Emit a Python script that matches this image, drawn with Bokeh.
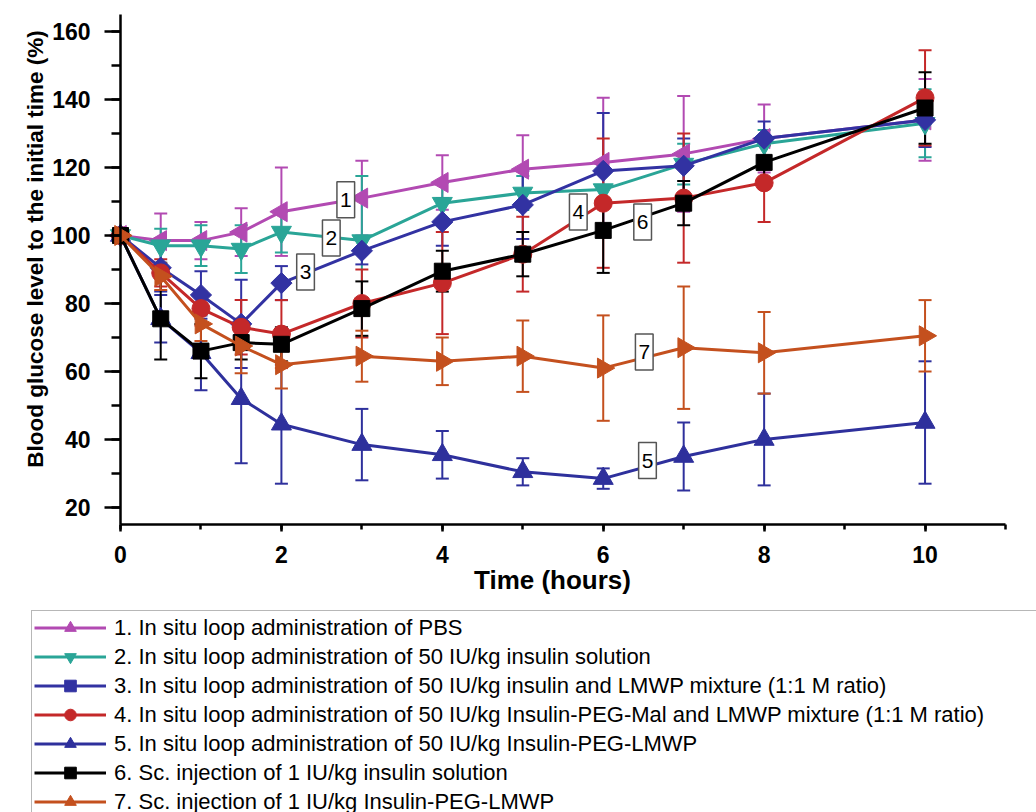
import numpy as np
from bokeh.plotting import figure
from bokeh.models import (ColumnDataSource, Whisker, TeeHead, Legend, LegendItem,
                          Label, SingleIntervalTicker, Range1d)
from bokeh.embed import file_html
from bokeh.resources import INLINE

# ---------------- data ----------------
time_h = [0, 0.5, 1, 1.5, 2, 3, 4, 5, 6, 7, 8, 10]

pbs_mean = [100, 98.5, 98.5, 101, 107, 111, 115.6, 119.5, 121.5, 124, 128.5, 134]
pbs_err = [0, 8, 5.5, 7, 13, 11, 8, 10, 19, 17, 10, 12]

ins_mean = [100, 97, 97, 96, 101, 98.5, 109.5, 112.5, 113.5, 121, 127, 133]
ins_err = [0, 5, 6, 7, 6, 19, 6, 5, 5, 6, 4, 10]

mix_mean = [100, 90.5, 82.5, 74, 86, 95.5, 104, 109, 119, 120.5, 128.5, 134]
mix_err = [0, 7, 7, 13, 5, 4, 7, 10, 17, 8, 5, 8]

mal_mean = [100, 89, 78.5, 73, 71, 80, 86, 94.5, 109.5, 111, 115.5, 140.5]
mal_err = [0, 4, 5, 8, 10, 10, 15, 11, 19, 19, 11.5, 14]

conj_mean = [100, 75.5, 65.5, 52, 44.5, 38.5, 35.5, 30.5, 28.5, 35, 40, 45]
conj_err = [0, 7, 11, 19, 17.5, 10.5, 7, 4, 3, 10, 13.5, 18]

sc_ins_mean = [100, 75.5, 66, 68.5, 68, 78.5, 89.5, 94.5, 101.5, 109.5, 121.5, 137.5]
sc_ins_err = [0, 12, 8, 5, 5, 8, 6, 6.5, 12.5, 6.5, 5, 10.5]

sc_conj_mean = [100, 88, 74, 67.5, 62, 64.5, 63, 64.5, 61, 67, 65.5, 70.5]
sc_conj_err = [0, 4, 5, 8, 7, 7.5, 7, 10.5, 15.5, 18, 12, 10.5]

series_labels = [
    "1. In situ loop administration of PBS",
    "2. In situ loop administration of 50 IU/kg insulin solution",
    "3. In situ loop administration of 50 IU/kg insulin and LMWP mixture (1:1 M ratio)",
    "4. In situ loop administration of 50 IU/kg Insulin-PEG-Mal and LMWP mixture (1:1 M ratio)",
    "5. In situ loop administration of 50 IU/kg Insulin-PEG-LMWP",
    "6. Sc. injection of 1 IU/kg insulin solution",
    "7. Sc. injection of 1 IU/kg Insulin-PEG-LMWP",
]

note_text = ["1", "2", "3", "4", "5", "6", "7"]
note_x = [2.80, 2.62, 2.30, 5.69, 6.55, 6.49, 6.51]
note_y = [110.5, 99.3, 89.3, 106.9, 33.8, 104.0, 65.7]

x_label = "Time (hours)"
y_label = "Blood glucose level to the initial time (%)"

# ---------------- layout geometry ----------------
W, H = 1036, 812
AX_LEFT, AX_RIGHT, AX_TOP, AX_BOTTOM = 120, 1005, 14, 524   # pixel box of the axes
X0, X1, Y0, Y1 = 0, 11, 15, 165                              # axis extents (data)
px_x = (AX_RIGHT - AX_LEFT) / (X1 - X0)
px_y = (AX_BOTTOM - AX_TOP) / (Y1 - Y0)
xr = Range1d(X0 - AX_LEFT / px_x, X0 + (W - AX_LEFT) / px_x)
yr = Range1d(Y0 - (H - AX_BOTTOM) / px_y, Y1 + AX_TOP / px_y)

# ---------------- styles ----------------
colors = ["#B24AB2", "#2AA597", "#3232A2", "#C42829", "#2E309C", "#000000", "#C4501E"]
markers = ["triangle", "inverted_triangle", "square", "circle", "triangle", "square", "triangle"]
angles = [np.pi / 2, 0, np.pi / 4, 0, 0, 0, -np.pi / 2]
sizes = [20, 20, 15, 18, 20, 16, 20]

FONT = "Liberation Sans"

p = figure(width=W, height=H, x_range=xr, y_range=yr,
           output_backend="svg", toolbar_location=None,
           min_border_left=0, min_border_top=0, min_border_right=0,
           min_border_bottom=0)
p.outline_line_color = None
p.xgrid.visible = False
p.ygrid.visible = False
p.background_fill_color = "white"

p.xaxis.ticker = SingleIntervalTicker(interval=2, num_minor_ticks=2)
p.yaxis.ticker = SingleIntervalTicker(interval=20, num_minor_ticks=2)
p.xaxis.fixed_location = Y0
p.yaxis.fixed_location = X0
p.xaxis.bounds = (X0, X1)
p.yaxis.bounds = (Y0, Y1)
for ax in p.axis:
    ax.axis_line_width = 2.5
    ax.major_tick_line_width = 2.5
    ax.minor_tick_line_width = 2.5
    ax.major_tick_in = 0
    ax.minor_tick_in = 0
    ax.major_label_text_font = FONT
    ax.major_label_text_font_style = "bold"
    ax.major_label_text_font_size = "23px"
    ax.major_label_text_color = "black"
p.xaxis.major_tick_out = 7
p.xaxis.minor_tick_out = 5
p.xaxis.major_label_standoff = 14
p.yaxis.major_tick_out = 16
p.yaxis.minor_tick_out = 9
p.yaxis.major_label_standoff = 14

all_means = [pbs_mean, ins_mean, mix_mean, mal_mean, conj_mean, sc_ins_mean, sc_conj_mean]
all_errs = [pbs_err, ins_err, mix_err, mal_err, conj_err, sc_ins_err, sc_conj_err]

items = []
for mean, err, c, mk, ang, sz, lab in zip(all_means, all_errs, colors, markers, angles, sizes, series_labels):
    src = ColumnDataSource(dict(t=time_h, m=mean))
    esrc = ColumnDataSource(dict(
        t=time_h[1:],
        lo=[m - e for m, e in zip(mean[1:], err[1:])],
        hi=[m + e for m, e in zip(mean[1:], err[1:])],
    ))
    w = Whisker(base="t", upper="hi", lower="lo", source=esrc, dimension="height",
                line_color=c, line_width=2,
                upper_head=TeeHead(size=13, line_color=c, line_width=2),
                lower_head=TeeHead(size=13, line_color=c, line_width=2))
    p.add_layout(w)
    ln = p.line("t", "m", source=src, line_color=c, line_width=3)
    sc = p.scatter("t", "m", source=src, marker=mk, size=sz, angle=ang,
                   fill_color=c, line_color=c)
    items.append(LegendItem(label=lab, renderers=[ln, sc]))

for txt, nx, ny in zip(note_text, note_x, note_y):
    p.add_layout(Label(x=nx, y=ny, text=txt, text_font=FONT, text_font_size="21px",
                       text_color="black",
                       text_align="center", text_baseline="middle",
                       background_fill_color="white", border_line_color="#555555",
                       border_line_width=1.5, padding=(3, 11)))

# axis titles (placed in pixel terms, converted through the ranges)
def to_x(px):
    return xr.start + px / px_x

def to_y(py):
    return yr.end - py / px_y

p.add_layout(Label(x=to_x(552), y=to_y(579), text=x_label, text_font=FONT,
                   text_font_size="26px", text_font_style="bold", text_color="black",
                   text_align="center", text_baseline="middle"))
p.add_layout(Label(x=to_x(35), y=to_y(248.5), text=y_label, text_font=FONT,
                   text_font_size="22.5px", text_font_style="bold", text_color="black",
                   text_align="center", text_baseline="middle", angle=np.pi / 2))

# legend box below the axes
LEG_LEFT, LEG_TOP, ROW, PAD = 31, 612, 29, 2
leg_h = 2 * PAD + len(items) * ROW
legend = Legend(items=items, orientation="vertical",
                location=(LEG_LEFT, H - (LEG_TOP + leg_h)),
                label_text_font=FONT, label_text_font_size="22px",
                label_text_color="black",
                glyph_width=72, glyph_height=ROW, label_height=ROW, spacing=0,
                padding=PAD, margin=0, label_standoff=8,
                border_line_color="#707070", border_line_width=1.5,
                background_fill_color="white", label_width=1000)
p.add_layout(legend, "center")

open("out.html", "w").write(file_html(p, INLINE))
